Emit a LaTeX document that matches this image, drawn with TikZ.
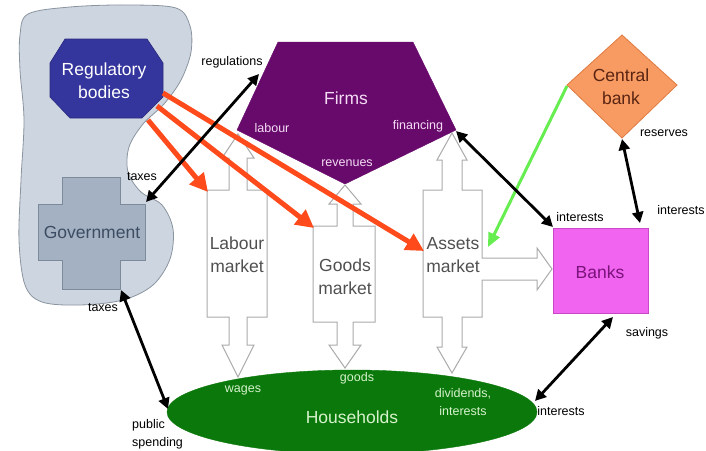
\documentclass[tikz,border=0pt]{standalone}
\usepackage{fontspec}
\setmainfont{Liberation Sans}
\usetikzlibrary{arrows.meta}
\definecolor{blobfill}{HTML}{CDD5E1}
\definecolor{blobline}{HTML}{8A949F}
\definecolor{regfill}{HTML}{35359E}
\definecolor{govfill}{HTML}{A4B1C3}
\definecolor{govline}{HTML}{7C8A9A}
\definecolor{govtext}{HTML}{3C4C62}
\definecolor{firmfill}{HTML}{680A6C}
\definecolor{lighttext}{HTML}{F4DCF4}
\definecolor{cbfill}{HTML}{F79B62}
\definecolor{cbline}{HTML}{E07A40}
\definecolor{cbtext}{HTML}{5A2412}
\definecolor{bankfill}{HTML}{F064F0}
\definecolor{bankline}{HTML}{C848C8}
\definecolor{banktext}{HTML}{7A127A}
\definecolor{hhfill}{HTML}{0B780B}
\definecolor{hhtext}{HTML}{D6F2CC}
\definecolor{mktline}{HTML}{AAAAAA}
\definecolor{mkttext}{HTML}{505050}
\definecolor{redarr}{HTML}{FF4A1C}
\definecolor{greenarr}{HTML}{66EE50}
\begin{document}
\begin{tikzpicture}[x=1pt,y=-1pt,
  big/.style={font=\fontsize{17.5}{23}\selectfont, align=center, inner sep=0},
  small/.style={font=\fontsize{12.5}{18}\selectfont, align=center, inner sep=0},
  blockarrow/.style={draw=mktline, fill=white, line width=1pt, line join=miter},
  redarrow/.style={draw=redarr, line width=5pt, -{Triangle[length=18pt,width=18pt]}},
  greenarrow/.style={draw=greenarr, line width=3pt, -{Triangle[length=14pt,width=12pt]}},
  blackarrow/.style={line width=2.8pt, {Triangle[length=11pt,width=11pt]}-{Triangle[length=11pt,width=11pt]}},
]
\useasboundingbox (0,0) rectangle (706,450);
\fill[white] (0,0) rectangle (706,450);

% government area blob
\draw[fill=blobfill, draw=blobline, line width=0.8pt]
  plot[smooth cycle, tension=0.55] coordinates {
  (28,14) (70,7) (125,5) (176,8) (190,26) (191,52) (181,80) (164,104) (143,124)
  (129,147) (128,172) (141,192) (162,205) (173,229) (170,259) (153,285) (123,300)
  (80,305) (42,302) (25,285) (19,240) (21,180) (24,120) (20,70) (20,35)};

% regulatory bodies octagon
\draw[fill=regfill, draw=regfill!80!black, line width=0.6pt]
  (65,39) -- (147,39) -- (163,63) -- (163,97) -- (142,118) -- (70,118) -- (50,97) -- (50,63) -- cycle;
\node[big, text=white] (reg) at (104,81) {Regulatory\\bodies};

% government cross
\draw[fill=govfill, draw=govline, line width=0.8pt]
  (62,177) -- (120,177) -- (120,204) -- (145,204) -- (145,260) -- (120,260) -- (120,289)
  -- (62,289) -- (62,260) -- (38,260) -- (38,204) -- (62,204) -- cycle;
\node[big, text=govtext] (gov) at (92,232) {Government};

% firms pentagon
\draw[fill=firmfill, draw=firmfill] (278,42) -- (413,42) -- (456,130) -- (345,184) -- (237,130) -- cycle;
\node[big, text=lighttext] (firms) at (346,98) {Firms};
\node[small, text=lighttext] (flab) at (272,128) {labour};
\node[small, text=lighttext] (ffin) at (418,126) {financing};
\node[small, text=lighttext] (frev) at (347,163) {revenues};

% market block arrows
\draw[blockarrow] (238,134) -- (254,158) -- (247,158) -- (247,190) -- (267,190) -- (267,317)
  -- (247,317) -- (247,345) -- (254,345) -- (238,377) -- (222,345) -- (229,345) -- (229,317)
  -- (207,317) -- (207,190) -- (229,190) -- (229,158) -- (222,158) -- cycle;
\node[big, text=mkttext] (labm) at (237,255) {Labour\\market};

\draw[blockarrow] (345,185) -- (361,204) -- (353,204) -- (353,226) -- (375,226) -- (375,322)
  -- (353,322) -- (353,345) -- (361,345) -- (345,368) -- (329,345) -- (337,345) -- (337,322)
  -- (313,322) -- (313,226) -- (337,226) -- (337,204) -- (329,204) -- cycle;
\node[big, text=mkttext] (goodm) at (345,277) {Goods\\market};

\draw[blockarrow] (452,133) -- (467,160) -- (462,160) -- (462,190) -- (482,190) -- (482,258)
  -- (537,258) -- (537,248) -- (552,269) -- (537,290) -- (537,280) -- (482,280) -- (482,317)
  -- (462,317) -- (462,347) -- (467,347) -- (452,373) -- (437,347) -- (442,347) -- (442,317)
  -- (423,317) -- (423,190) -- (442,190) -- (442,160) -- (437,160) -- cycle;
\node[big, text=mkttext] (assm) at (453,255) {Assets\\market};

% households
\draw[fill=hhfill, draw=hhfill] (352,412) ellipse [x radius=185, y radius=42];
\node[big, text=hhtext] (hh) at (352,417) {Households};
\node[small, text=hhtext] (hwag) at (243,390) {wages};
\node[small, text=hhtext] (hgood) at (357,378) {goods};
\node[small, text=hhtext] (hdiv) at (463,402) {dividends,\\interests};

% banks
\draw[fill=bankfill, draw=bankline, line width=0.8pt] (553,228) rectangle (648,313);
\node[big, text=banktext] (banks) at (600,272) {Banks};

% central bank
\draw[fill=cbfill, draw=cbline, line width=0.8pt] (622,35) -- (677,85) -- (622,138) -- (567,85) -- cycle;
\node[big, text=cbtext] (cb) at (621,87) {Central\\bank};

% connector end points
\coordinate (regA) at (148,120);
\coordinate (regB) at (157,106);
\coordinate (regC) at (163,93);
\coordinate (labTL) at (208,192);
\coordinate (goodTL) at (314,228);
\coordinate (assL) at (424,251);
\coordinate (cbL) at (567,86);
\coordinate (assR) at (488,247);
\coordinate (govTR) at (146,202);
\coordinate (firmL) at (259,74);
\coordinate (firmR) at (456,131);
\coordinate (bankTL) at (553,227);
\coordinate (cbB) at (622,139);
\coordinate (bankT) at (640,223);
\coordinate (bankB) at (613,317);
\coordinate (hhR) at (535,401);
\coordinate (govB) at (121,290);
\coordinate (hhL) at (168,409);

% red arrows
\draw[redarrow] (regA) -- (labTL);
\draw[redarrow] (regB) -- (goodTL);
\draw[redarrow] (regC) -- (assL);

% green arrow
\draw[greenarrow] (cbL) -- (assR);

% black arrows
\draw[blackarrow] (govTR) -- (firmL);
\draw[blackarrow] (firmR) -- (bankTL);
\draw[blackarrow] (cbB) -- (bankT);
\draw[blackarrow] (bankB) -- (hhR);
\draw[blackarrow] (govB) -- (hhL);

% small labels
\node[small] (lreg) at (232,62) {regulations};
\node[small] (ltax1) at (142,177) {taxes};
\node[small] (ltax2) at (103,308) {taxes};
\node[small, align=left, anchor=west] (lpub) at (132,434) {public\\spending};
\node[small] (lres) at (664,133) {reserves};
\node[small] (lint1) at (681,210) {interests};
\node[small] (lint2) at (580,217) {interests};
\node[small] (lsav) at (647,333) {savings};
\node[small] (lint3) at (561,411) {interests};
\end{tikzpicture}
\end{document}
